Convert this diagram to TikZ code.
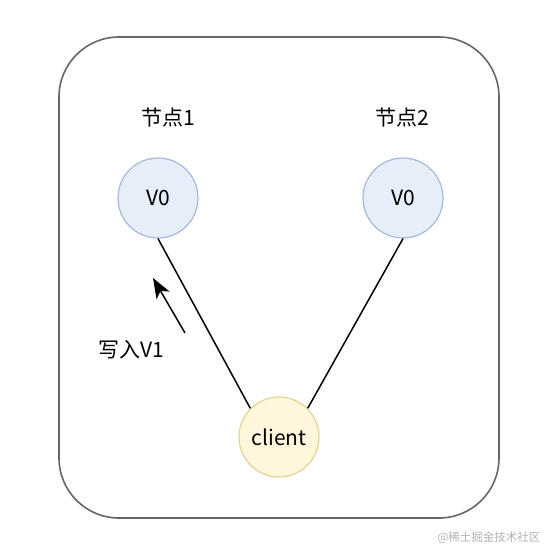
\documentclass[tikz,border=0pt]{standalone}
\usepackage{fontspec}
\setmainfont{Noto Sans CJK SC}
\usetikzlibrary{arrows.meta}
\definecolor{bluefill}{HTML}{E6EEFA}
\definecolor{bluedraw}{HTML}{A6B9DB}
\definecolor{yelfill}{HTML}{FFF6DC}
\definecolor{yeldraw}{HTML}{E3D496}
\definecolor{framegray}{HTML}{666666}
\begin{document}
\begin{tikzpicture}[x=1pt,y=-1pt,
  nodecirc/.style={circle,draw=bluedraw,fill=bluefill,line width=1.2pt,minimum size=80pt,inner sep=0pt,font=\fontsize{21}{24}\selectfont},
  clientcirc/.style={circle,draw=yeldraw,fill=yelfill,line width=1.2pt,minimum size=80pt,inner sep=0pt,font=\fontsize{21}{24}\selectfont},
  lbl/.style={font=\fontsize{21}{24}\selectfont,inner sep=0pt},
  conn/.style={line width=1.5pt,black}]
\useasboundingbox (0,0) rectangle (560,560);
\draw[framegray,line width=1.6pt,rounded corners=60pt] (59,37) rectangle (499,518);
\node[nodecirc] (n1) at (158,198) {V0};
\node[nodecirc] (n2) at (403,198) {V0};
\node[clientcirc] (c) at (279,437) {client};
\node[lbl] (l1) at (168,118) {节点1};
\node[lbl] (l2) at (402,118) {节点2};
\draw[conn] (n1.south) -- (c.135);
\draw[conn] (n2.south) -- (c.45);
\coordinate (at) at (185,333);
\coordinate (ah) at (153,278);
\draw[conn,-{Stealth[length=20pt,width=15pt,inset=5pt]}] (at) -- (ah);
\node[lbl] (w) at (131,350) {写入V1};
\node[font=\fontsize{11.5}{13}\selectfont,text=black!30,inner sep=0pt] (wm) at (489,538) {@稀土掘金技术社区};
\end{tikzpicture}
\end{document}
